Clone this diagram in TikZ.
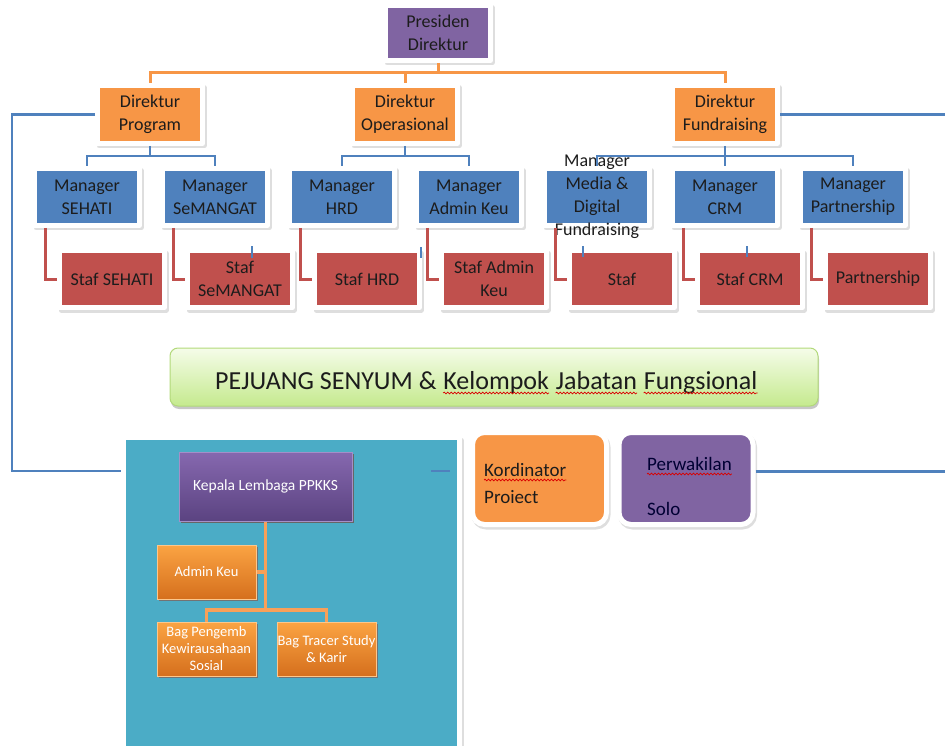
\documentclass[tikz,border=0pt]{standalone}
\usepackage{fontspec}
\setmainfont{Carlito}
\usetikzlibrary{decorations.pathmorphing}
\definecolor{cOr}{HTML}{F79646}
\definecolor{cBl}{HTML}{4F81BD}
\definecolor{cRd}{HTML}{C0504D}
\definecolor{cPu}{HTML}{8064A2}
\definecolor{cTe}{HTML}{4BACC6}
\definecolor{cTx}{HTML}{1C1C1C}
\definecolor{cKt}{HTML}{8668AF}
\definecolor{cKb}{HTML}{5B4381}
\definecolor{cKe}{HTML}{A48FC8}
\definecolor{cIt}{HTML}{FBA443}
\definecolor{cIb}{HTML}{D56F1D}
\definecolor{cIe}{HTML}{FCC78C}
\definecolor{cGt}{HTML}{F5FCE9}
\definecolor{cGb}{HTML}{C5EA8E}
\definecolor{cGe}{HTML}{B2D97A}
\begin{document}
\begin{tikzpicture}[x=1pt,y=-1pt,
 shad/.style={preaction={draw=black!13,fill=black!13,line width=5pt,line join=round,transform canvas={xshift=1.5pt,yshift=-2.5pt}}},
 fr/.style={shad,draw=white,line width=5pt,line join=round,inner sep=0pt,align=center,text=cTx,font=\fontsize{18}{23}\selectfont},
 topbox/.style={fr,fill=cPu,minimum width=105pt,minimum height=55pt},
 dirbox/.style={fr,fill=cOr,minimum width=105pt,minimum height=58pt},
 mgrbox/.style={fr,fill=cBl,minimum width=105pt,minimum height=57pt},
 stfbox/.style={fr,fill=cRd,minimum width=105pt,minimum height=57pt},
 freetext/.style={inner sep=0pt,align=center,text=cTx,font=\fontsize{18}{23}\selectfont},
 oline/.style={draw=cOr,line width=3pt},
 bline/.style={draw=cBl,line width=2.2pt},
 rline/.style={draw=cRd,line width=3pt},
 iline/.style={draw=cOr!90!white,line width=3.5pt},
 tickline/.style={draw=cBl,line width=1.2pt},
 spell/.style={draw=red!85!black,line width=0.7pt,decorate,decoration={snake,amplitude=0.9pt,segment length=3.5pt}},
 panelbox/.style={shad,draw=white,line width=5pt,line join=round,fill=cTe,minimum width=336pt,minimum height=325pt,inner sep=0pt},
 kepbox/.style={top color=cKt,bottom color=cKb,draw=cKe,line width=1pt,minimum width=173pt,minimum height=69pt,inner sep=0pt,text=white,font=\fontsize{15.5}{18}\selectfont,preaction={fill=black!60,transform canvas={xshift=2pt,yshift=-2pt}}},
 ibox/.style={top color=cIt,bottom color=cIb,draw=cIe,line width=1pt,minimum width=99pt,minimum height=54pt,inner sep=0pt,text=white,align=center,font=\fontsize{14.5}{17}\selectfont,preaction={fill=black!55,transform canvas={xshift=2pt,yshift=-2pt}}},
 kbox/.style={shad,draw=white,line width=5pt,rounded corners=12pt,minimum width=134pt,minimum height=92pt,inner sep=0pt},
 ktext/.style={inner sep=0pt,anchor=base west,text=cTx,font=\fontsize{19}{23}\selectfont},
 banner/.style={top color=cGt,bottom color=cGb,draw=cGe,line width=1pt,rounded corners=8pt,minimum width=648pt,minimum height=58pt,inner sep=0pt,preaction={fill=black!22,transform canvas={xshift=1pt,yshift=-3pt}}},
 btext/.style={inner sep=0pt,anchor=base west,text=cTx,font=\fontsize{26}{30}\selectfont}
]
\useasboundingbox (0,0) rectangle (945,746);

% bottom panel
\node[panelbox] (panel) at (291.5,600) {};
\node[kepbox] (kep) at (265.5,486.5) {Kepala Lembaga PPKKS};
\node[ibox] (ak) at (206.5,572) {Admin Keu};
\node[ibox] (bp) at (206.5,649) {Bag Pengemb\\Kewirausahaan\\Sosial};
\node[ibox] (bt) at (326.5,649) {Bag Tracer Study\\\& Karir};
\coordinate (ib) at (265.5,610);
\draw[iline] (kep.south) -- (ib);
\draw[iline] (bp.north) |- (ib) -| (bt.north);
\draw[iline] (ak.east) -- (ak.east -| ib);

% banner
\node[banner] (ban) at (494,377) {};
\node[btext] (bt1) at (215,389) {PEJUANG SENYUM \&};
\node[btext] (bt2) at ([xshift=6.5pt]bt1.base east) {Kelompok};
\node[btext] (bt3) at ([xshift=6.5pt]bt2.base east) {Jabatan};
\node[btext] (bt4) at ([xshift=6.5pt]bt3.base east) {Fungsional};
\foreach \w in {bt2,bt3,bt4}
  \draw[spell] ([yshift=-4pt]\w.base west) -- ([yshift=-4pt]\w.base east);

% side boxes
\node[kbox,fill=cOr] (kord) at (539.5,478.5) {};
\node[ktext] (kt1) at (484,476) {Kordinator};
\node[ktext] (kt2) at (484,503) {Proiect};
\draw[spell] ([yshift=-4pt]kt1.base west) -- ([yshift=-4pt]kt1.base east);
\node[kbox,fill=cPu] (pw) at (686,478.5) {};
\node[ktext,text=black!80!blue] (pt1) at (647,470) {Perwakilan};
\node[ktext,text=black!80!blue] (pt2) at (647,515) {Solo};
\draw[spell] ([yshift=-4pt]pt1.base west) -- ([yshift=-4pt]pt1.base east);

% top hierarchy
\node[topbox] (pres) at (438,33) {Presiden\\Direktur};
\node[dirbox] (dp) at (150,114.5) {Direktur\\Program};
\node[dirbox] (dop) at (405,114.5) {Direktur\\Operasional};
\node[dirbox] (df) at (725,114.5) {Direktur\\Fundraising};

\node[mgrbox] (m1) at (87,197) {Manager\\SEHATI};
\node[mgrbox] (m2) at (215,197) {Manager\\SeMANGAT};
\node[mgrbox] (m3) at (342,197) {Manager\\HRD};
\node[mgrbox] (m4) at (469,197) {Manager\\Admin Keu};
\node[mgrbox] (m5) at (597,197) {};
\node[freetext] (m5t) at (597,197) {Manager\\Media \&\\Digital\\Fundraising};
\node[mgrbox] (m6) at (725,197) {Manager\\CRM};
\node[mgrbox] (m7) at (853,197) {Manager\\Partnership};

\node[stfbox] (s1) at (112,279) {Staf SEHATI};
\node[stfbox] (s2) at (240,279) {Staf\\SeMANGAT};
\node[stfbox] (s3) at (367,279) {Staf HRD};
\node[stfbox] (s4) at (494,279) {Staf Admin\\Keu};
\node[stfbox] (s5) at (622,279) {Staf};
\node[stfbox] (s6) at (750,279) {Staf CRM};
\node[stfbox] (s7) at (878,279) {Partnership};

% orange connectors
\coordinate (obus) at (438,73);
\draw[oline] (pres.south) -- (obus);
\draw[oline] (dp.north) |- (obus) -| (df.north);
\draw[oline] (dop.north) -- (dop.north |- obus);

% blue buses
\coordinate (b1) at (150,156);
\coordinate (b2) at (405,156);
\coordinate (b3) at (725,156);
\draw[bline] (dp.south) -- (b1);
\draw[bline] (m1.north) |- (b1) -| (m2.north);
\draw[bline] (dop.south) -- (b2);
\draw[bline] (m3.north) |- (b2) -| (m4.north);
\draw[bline] (df.south) -- (m6.north);
\draw[bline] (m5.north) |- (b3) -| (m7.north);

% red elbows
\foreach \m/\s in {m1/s1,m2/s2,m3/s3,m4/s4,m5/s5,m6/s6,m7/s7}
  \draw[rline] ([xshift=13pt]\m.south west) |- (\s.west);

% long blue lines
\coordinate (lc) at (12,471);
\coordinate (rc1) at (945,114.5);
\coordinate (rc2) at (945,471.5);
\draw[bline] (dp.west) -| (lc) -- (lc -| panel.west);
\draw[bline] (df.east) -- (rc1);
\draw[bline] (rc2 -| pw.east) -- (rc2);

% small stray ticks
\draw[tickline] (252,246) -- (252,258);
\draw[tickline] (421,247) -- (421,258);
\draw[tickline] (583,246) -- (583,257);
\draw[tickline] (747,246) -- (747,257);
\draw[tickline] (431,471) -- (450,471);
\end{tikzpicture}
\end{document}
